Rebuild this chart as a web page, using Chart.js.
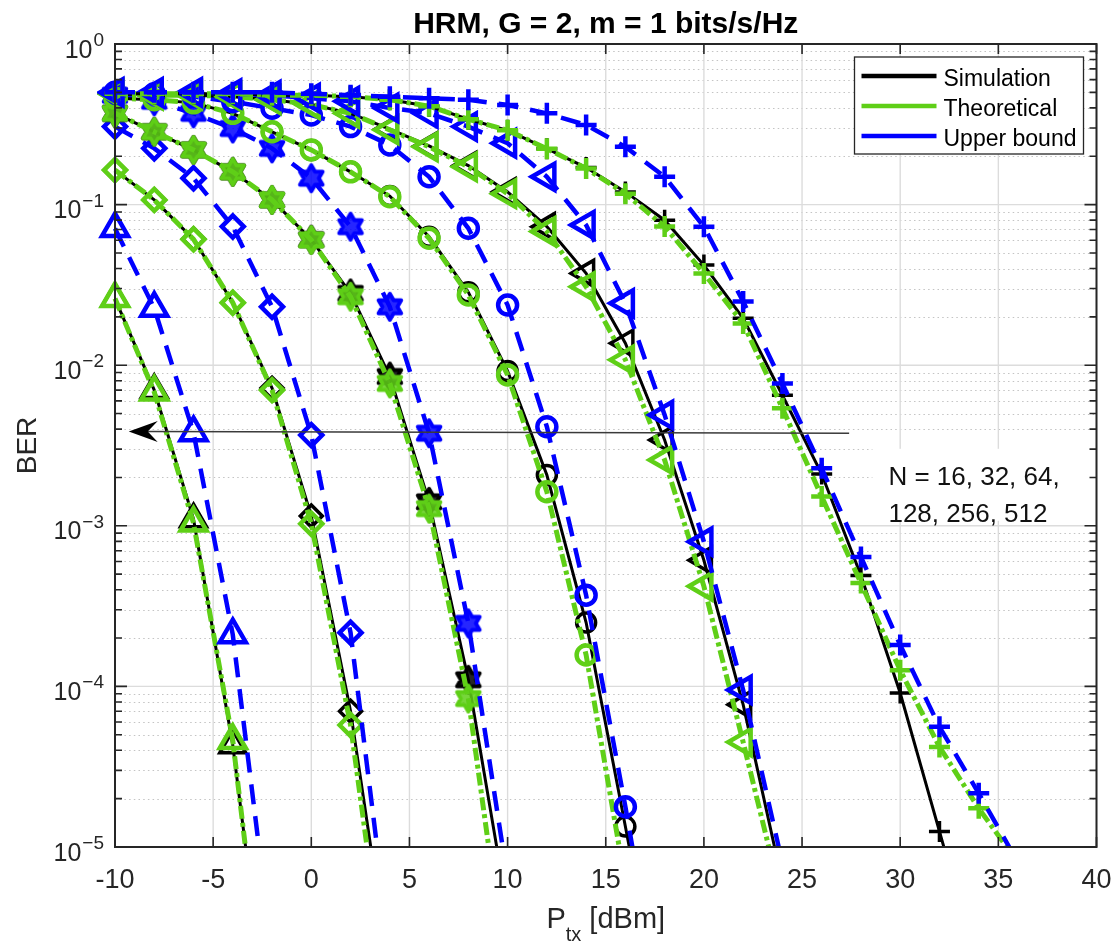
<!DOCTYPE html>
<html>
<head>
<meta charset="utf-8">
<script src="https://cdn.jsdelivr.net/npm/chart.js@4.4.1/dist/chart.umd.min.js"></script>
<style>
  html, body { margin: 0; padding: 0; background: #fff; }
  #wrap { width: 1116px; height: 944px; }
</style>
</head>
<body>
<div id="wrap"><canvas id="berChart" width="1116" height="944"></canvas></div>
<script>
Chart.defaults.font.family = "'Liberation Sans', Arial, sans-serif";

// BER values, one group per N (x = Ptx in dBm)
const ptx16 = [-10, -8, -6, -4, -2];
const sim16 = [0.026, 0.0070, 1.1e-3, 4.3e-5, 5e-7];
const theo16 = [0.026, 0.0068, 1.04e-3, 4.6e-5, 4e-7];
const bound16 = [0.071, 0.0226, 3.8e-3, 2.1e-4, 2.2e-6];

const ptx32 = [-10, -8, -6, -4, -2, 0, 2, 4];
const sim32 = [0.164, 0.107, 0.061, 0.0245, 0.0072, 1.15e-3, 7.0e-5, 1.6e-6];
const theo32 = [0.164, 0.107, 0.0608, 0.0245, 0.0070, 1.03e-3, 5.75e-5, 9e-7];
const bound32 = [0.306, 0.224, 0.146, 0.073, 0.0231, 3.67e-3, 2.16e-4, 2.3e-6];

const ptx64 = [-10, -8, -6, -4, -2, 0, 2, 4, 6, 8, 10];
const sim64 = [0.37, 0.284, 0.219, 0.16, 0.107, 0.0605, 0.028, 8.5e-3, 1.41e-3, 1.1e-4, 4e-6];
const theo64 = [0.37, 0.284, 0.219, 0.16, 0.107, 0.0602, 0.0267, 7.7e-3, 1.28e-3, 8.4e-5, 1.4e-6];
const bound64 = [0.48, 0.44, 0.37, 0.298, 0.224, 0.146, 0.0729, 0.0231, 3.77e-3, 2.47e-4, 6.3e-6];

const ptx128 = [-10, -8, -6, -4, -2, 0, 2, 4, 6, 8, 10, 12, 14, 16, 18];
const sim128 = [0.46, 0.45, 0.43, 0.37, 0.284, 0.219, 0.16, 0.113, 0.063, 0.0285, 9.2e-3, 2.07e-3, 2.5e-4, 1.34e-5, 7e-7];
const theo128 = [0.46, 0.45, 0.43, 0.37, 0.284, 0.219, 0.16, 0.112, 0.0617, 0.0274, 8.7e-3, 1.63e-3, 1.57e-4, 6e-6, 1e-7];
const bound128 = [0.5, 0.49, 0.47, 0.437, 0.398, 0.361, 0.306, 0.235, 0.149, 0.0712, 0.0237, 4.14e-3, 3.7e-4, 1.78e-5, 7e-7];

const ptx256 = [-10, -8, -6, -4, -2, 0, 2, 4, 6, 8, 10, 12, 14, 16, 18, 20, 22, 24];
const sim256 = [0.49, 0.48, 0.48, 0.47, 0.45, 0.42, 0.37, 0.295, 0.232, 0.175, 0.12, 0.0729, 0.0373, 0.0137, 3.42e-3, 6.1e-4, 7.7e-5, 6e-6];
const theo256 = [0.49, 0.48, 0.48, 0.47, 0.45, 0.42, 0.37, 0.292, 0.229, 0.172, 0.117, 0.068, 0.0308, 0.0108, 2.57e-3, 4.2e-4, 4.5e-5, 4.5e-6];
const bound256 = [0.5, 0.5, 0.5, 0.49, 0.48, 0.46, 0.44, 0.4, 0.37, 0.306, 0.241, 0.149, 0.0746, 0.0243, 4.9e-3, 7.96e-4, 9.5e-5, 7.9e-6];

const ptx512 = [-10, -8, -6, -4, -2, 0, 2, 4, 6, 8, 10, 12, 14, 16, 18, 20, 22, 24, 26, 28, 30, 32, 34, 36];
const sim512 = [0.49, 0.49, 0.49, 0.49, 0.48, 0.48, 0.47, 0.45, 0.41, 0.34, 0.29, 0.223, 0.17, 0.12, 0.08, 0.042, 0.0196, 6.5e-3, 2.1e-3, 4.9e-4, 9.1e-5, 1.25e-5, 1.7e-6, 2e-7];
const theo512 = [0.49, 0.49, 0.49, 0.49, 0.48, 0.48, 0.47, 0.45, 0.41, 0.34, 0.29, 0.223, 0.168, 0.117, 0.073, 0.0373, 0.0182, 5.4e-3, 1.52e-3, 4.4e-4, 1.26e-4, 4.2e-5, 1.74e-5, 8e-6];
const bound512 = [0.5, 0.5, 0.5, 0.5, 0.5, 0.49, 0.48, 0.47, 0.46, 0.45, 0.417, 0.37, 0.313, 0.229, 0.149, 0.0729, 0.0249, 7.7e-3, 2.28e-3, 6.4e-4, 1.81e-4, 5.6e-5, 2.16e-5, 8e-6];

const xTicks = [-10, -5, 0, 5, 10, 15, 20, 25, 30, 35, 40];
const yDecades = [0, -1, -2, -3, -4, -5];
const legendLabels = ["Simulation", "Theoretical", "Upper bound"];
const noteLines = ["N = 16, 32, 64,", "128, 256, 512"];
const noteAt = [29.4, 1.8e-3];        // data coords of first text line baseline
const arrowTail = [27.4, 3.77e-3];
const arrowHead = [-9.3, 3.87e-3];

const simColor = "#000000";
const theoColor = "#5fcf17";
const boundColor = "#0000ff";
const axisColor = "#262626";
const FONT = "'Liberation Sans', Arial, sans-serif";

// six-pointed star marker (MATLAB 'hexagram'), drawn heavy so it reads almost solid
function hexagram(color) {
  const r = 13, lw = 4;
  const size = Math.ceil(2 * r + lw + 2);
  const c = document.createElement("canvas");
  c.width = size;
  c.height = size;
  const g = c.getContext("2d");
  const ri = r / Math.sqrt(3);
  g.beginPath();
  for (let i = 0; i < 12; i++) {
    const a = -Math.PI / 2 + (i * Math.PI) / 6;
    const rr = i % 2 === 0 ? r : ri;
    g.lineTo(size / 2 + rr * Math.cos(a), size / 2 + rr * Math.sin(a));
  }
  g.closePath();
  g.strokeStyle = color;
  g.lineWidth = lw;
  g.lineJoin = "round";
  g.stroke();
  g.fillStyle = color;
  g.globalAlpha = 0.85;
  g.fill();
  return c;
}

function markerStyle(kind, color) {
  switch (kind) {
    case "tri": return { pointStyle: "triangle", pointRadius: 15, pointRotation: 0 };
    case "triLeft": return { pointStyle: "triangle", pointRadius: 15, pointRotation: 270 };
    case "diamond": return { pointStyle: "rectRot", pointRadius: 11, pointRotation: 0 };
    case "hex": return { pointStyle: hexagram(color), pointRadius: 13, pointRotation: 0 };
    case "circle": return { pointStyle: "circle", pointRadius: 9.5, pointRotation: 0 };
    default: return { pointStyle: "cross", pointRadius: 10.5, pointRotation: 0 };
  }
}

const groups = [
  { ptx: ptx16, sim: sim16, theo: theo16, bound: bound16, marker: "tri" },
  { ptx: ptx32, sim: sim32, theo: theo32, bound: bound32, marker: "diamond" },
  { ptx: ptx64, sim: sim64, theo: theo64, bound: bound64, marker: "hex" },
  { ptx: ptx128, sim: sim128, theo: theo128, bound: bound128, marker: "circle" },
  { ptx: ptx256, sim: sim256, theo: theo256, bound: bound256, marker: "triLeft" },
  { ptx: ptx512, sim: sim512, theo: theo512, bound: bound512, marker: "plus" },
];

const datasets = [];
let seq = 0;
groups.forEach((g) => {
  const kinds = [
    [legendLabels[0], g.sim, simColor, 3, [], 3.5],
    [legendLabels[1], g.theo, theoColor, 5, [13, 4, 4, 4], 4.5],
    [legendLabels[2], g.bound, boundColor, 4.5, [20, 12], 4.5],
  ];
  kinds.forEach(([label, vals, color, lw, dash, mw]) => {
    datasets.push({
      label: label,
      data: g.ptx.map((x, i) => ({ x: x, y: vals[i] })),
      borderColor: color,
      borderWidth: lw,
      borderDash: dash,
      pointBorderColor: color,
      pointBackgroundColor: "rgba(0,0,0,0)",
      pointBorderWidth: mw,
      ...markerStyle(g.marker, color),
      fill: false,
      tension: 0,
      clip: { left: 18, top: 8, right: 8, bottom: 1 },
      order: 100 - seq++, // later series are drawn on top
    });
  });
});

const matlabAxes = {
  id: "matlabAxes",
  beforeDatasetsDraw(chart) {
    const { ctx, chartArea: a, scales } = chart;
    const x = scales.x, y = scales.y;
    ctx.save();
    // minor grid (dotted)
    ctx.strokeStyle = "#c4c4c4";
    ctx.lineWidth = 1.2;
    ctx.setLineDash([1.5, 3.2]);
    yDecades.slice(1).forEach((e) => {
      for (let m = 2; m <= 9; m++) {
        const py = Math.round(y.getPixelForValue(m * Math.pow(10, e))) + 0.5;
        ctx.beginPath();
        ctx.moveTo(a.left, py);
        ctx.lineTo(a.right, py);
        ctx.stroke();
      }
    });
    // major grid
    ctx.setLineDash([]);
    ctx.strokeStyle = "#dcdcdc";
    ctx.lineWidth = 1.4;
    xTicks.forEach((v) => {
      const px = x.getPixelForValue(v);
      ctx.beginPath();
      ctx.moveTo(px, a.top);
      ctx.lineTo(px, a.bottom);
      ctx.stroke();
    });
    yDecades.forEach((e) => {
      const py = y.getPixelForValue(Math.pow(10, e));
      ctx.beginPath();
      ctx.moveTo(a.left, py);
      ctx.lineTo(a.right, py);
      ctx.stroke();
    });
    ctx.restore();
  },
  afterDatasetsDraw(chart) {
    const { ctx, chartArea: a, scales } = chart;
    const x = scales.x, y = scales.y;
    ctx.save();

    // arrow
    const tx = x.getPixelForValue(arrowTail[0]), ty = y.getPixelForValue(arrowTail[1]);
    const hx = x.getPixelForValue(arrowHead[0]), hy = y.getPixelForValue(arrowHead[1]);
    const ang = Math.atan2(hy - ty, hx - tx);
    ctx.strokeStyle = "#3a3a3a";
    ctx.lineWidth = 1.5;
    ctx.beginPath();
    ctx.moveTo(tx, ty);
    ctx.lineTo(hx - Math.cos(ang) * 18, hy - Math.sin(ang) * 18);
    ctx.stroke();
    ctx.translate(hx, hy);
    ctx.rotate(ang);
    ctx.fillStyle = "#000";
    ctx.beginPath();
    ctx.moveTo(0, 0);
    ctx.lineTo(-29, -10.5);
    ctx.lineTo(-19, 0);
    ctx.lineTo(-29, 10.5);
    ctx.closePath();
    ctx.fill();
    ctx.setTransform(1, 0, 0, 1, 0, 0);

    // N annotation
    const nx = x.getPixelForValue(noteAt[0]), ny = y.getPixelForValue(noteAt[1]);
    ctx.fillStyle = "#fff";
    ctx.fillRect(nx - 16, ny - 36, a.right - 3 - (nx - 16), 72);
    ctx.fillStyle = "#111";
    ctx.font = "26px " + FONT;
    ctx.textAlign = "left";
    ctx.textBaseline = "alphabetic";
    ctx.fillText(noteLines[0], nx, ny);
    ctx.fillText(noteLines[1], nx, ny + 36.7);

    // legend
    const lw = 229, lh = 97;
    const lx = a.right - 13 - lw, ly = a.top + 13;
    ctx.fillStyle = "#fff";
    ctx.fillRect(lx, ly, lw, lh);
    ctx.strokeStyle = axisColor;
    ctx.lineWidth = 1.3;
    ctx.strokeRect(lx, ly, lw, lh);
    [simColor, theoColor, boundColor].forEach((c, i) => {
      const yy = ly + 19 + i * 30;
      ctx.strokeStyle = c;
      ctx.lineWidth = 4.5;
      ctx.beginPath();
      ctx.moveTo(lx + 7, yy);
      ctx.lineTo(lx + 82, yy);
      ctx.stroke();
      ctx.fillStyle = "#000";
      ctx.font = "23px " + FONT;
      ctx.fillText(legendLabels[i], lx + 89, yy + 9.5);
    });

    // axes box
    ctx.strokeStyle = axisColor;
    ctx.lineWidth = 2;
    ctx.strokeRect(a.left, a.top, a.right - a.left, a.bottom - a.top);

    // ticks
    ctx.lineWidth = 1.6;
    ctx.beginPath();
    xTicks.forEach((v) => {
      const px = x.getPixelForValue(v);
      ctx.moveTo(px, a.bottom); ctx.lineTo(px, a.bottom - 10);
      ctx.moveTo(px, a.top); ctx.lineTo(px, a.top + 10);
    });
    yDecades.forEach((e, k) => {
      const py = y.getPixelForValue(Math.pow(10, e));
      ctx.moveTo(a.left, py); ctx.lineTo(a.left + 12, py);
      ctx.moveTo(a.right, py); ctx.lineTo(a.right - 12, py);
      if (k === 0) return;
      for (let m = 2; m <= 9; m++) {
        const pm = y.getPixelForValue(m * Math.pow(10, e));
        ctx.moveTo(a.left, pm); ctx.lineTo(a.left + 7, pm);
        ctx.moveTo(a.right, pm); ctx.lineTo(a.right - 7, pm);
      }
    });
    ctx.stroke();

    // x tick labels
    ctx.fillStyle = axisColor;
    ctx.font = "27px " + FONT;
    ctx.textAlign = "center";
    ctx.textBaseline = "alphabetic";
    xTicks.forEach((v) => {
      ctx.fillText(String(v), x.getPixelForValue(v), a.bottom + 41);
    });

    // y tick labels 10^e
    ctx.textAlign = "left";
    yDecades.forEach((e) => {
      const py = y.getPixelForValue(Math.pow(10, e));
      const sup = e === 0 ? "0" : "\u2212" + Math.abs(e);
      ctx.font = "19px " + FONT;
      const sw = ctx.measureText(sup).width;
      const right = a.left - 11;
      ctx.fillText(sup, right - sw, py + 2);
      ctx.font = "25px " + FONT;
      const bw = ctx.measureText("10").width;
      ctx.fillText("10", right - sw - bw - 1, py + 13.5);
    });

    // x axis label: P_tx [dBm]
    const cx = (a.left + a.right) / 2;
    ctx.font = "29px " + FONT;
    const wP = ctx.measureText("P").width;
    const wRest = ctx.measureText(" [dBm]").width;
    ctx.font = "20px " + FONT;
    const wSub = ctx.measureText("tx").width;
    let sx = cx - (wP + wSub + wRest) / 2;
    ctx.font = "29px " + FONT;
    ctx.fillText("P", sx, 928);
    ctx.font = "20px " + FONT;
    ctx.fillText("tx", sx + wP, 941);
    ctx.font = "29px " + FONT;
    ctx.fillText(" [dBm]", sx + wP + wSub, 928);

    // y axis label
    ctx.translate(36, (a.top + a.bottom) / 2);
    ctx.rotate(-Math.PI / 2);
    ctx.textAlign = "center";
    ctx.font = "28px " + FONT;
    ctx.fillText("BER", 0, 0);
    ctx.setTransform(1, 0, 0, 1, 0, 0);

    // title
    ctx.fillStyle = "#000";
    ctx.font = "bold 30px " + FONT;
    ctx.textAlign = "center";
    ctx.fillText("HRM, G = 2, m = 1 bits/s/Hz", cx, 33);
    ctx.restore();
  },
};

const ctx = document.getElementById("berChart").getContext("2d");
new Chart(ctx, {
  type: "line",
  data: { datasets: datasets },
  options: {
    responsive: false,
    animation: false,
    events: [],
    layout: { padding: { top: 44, right: 17, bottom: 0, left: 0 } },
    plugins: {
      legend: { display: false },
      tooltip: { enabled: false },
      title: { display: false },
    },
    scales: {
      x: {
        type: "linear",
        min: -10,
        max: 40,
        ticks: { display: false },
        grid: { display: false },
        border: { display: false },
        afterFit: (s) => { s.height = 97; },
      },
      y: {
        type: "logarithmic",
        min: 1e-5,
        max: 1,
        ticks: { display: false },
        grid: { display: false },
        border: { display: false },
        afterFit: (s) => { s.width = 115; },
      },
    },
  },
  plugins: [matlabAxes],
});
</script>
</body>
</html>
